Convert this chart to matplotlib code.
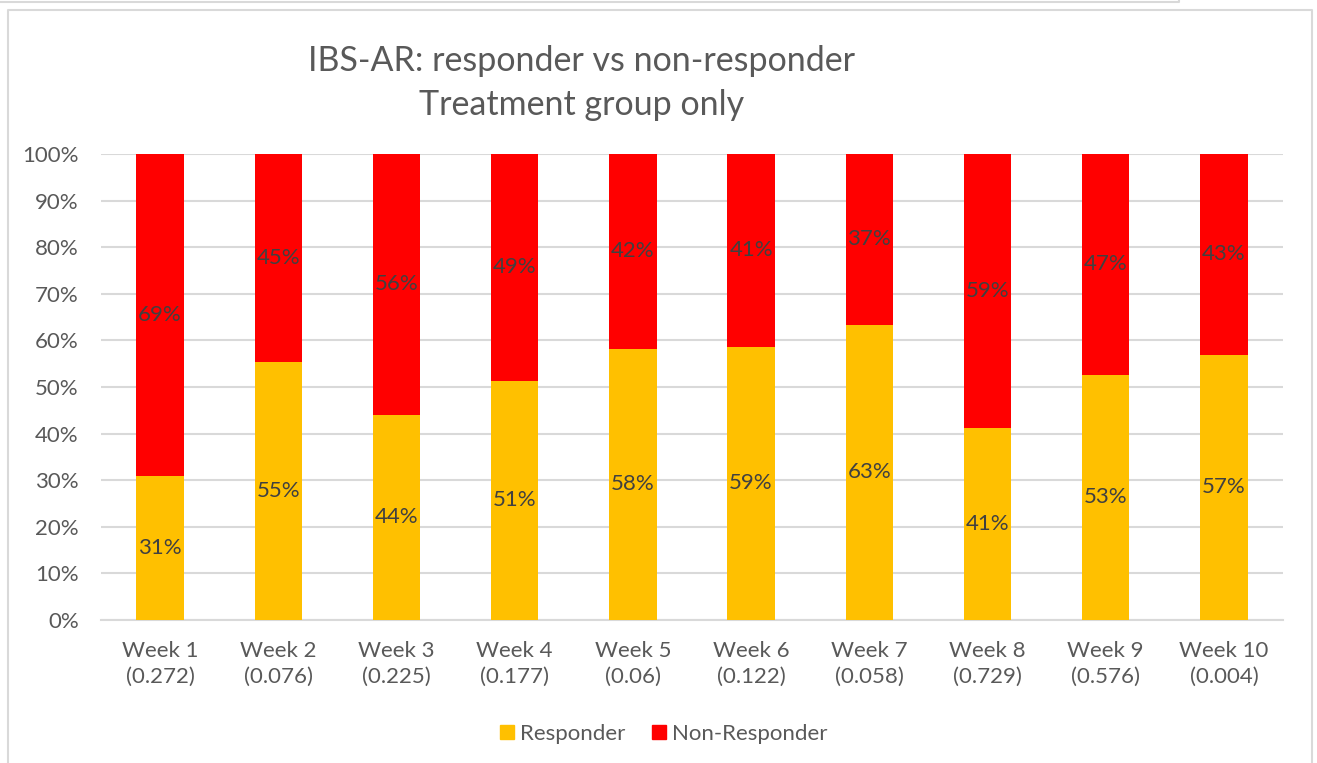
"""IBS-AR responder vs non-responder stacked bars (treatment group only)."""

import matplotlib

matplotlib.use("Agg")

import matplotlib.pyplot as plt
from matplotlib.lines import Line2D
from matplotlib.patches import Patch
import numpy as np

weeks = ["Week 1", "Week 2", "Week 3", "Week 4", "Week 5",
         "Week 6", "Week 7", "Week 8", "Week 9", "Week 10"]
p_values = ["0.272", "0.076", "0.225", "0.177", "0.06",
            "0.122", "0.058", "0.729", "0.576", "0.004"]
responder = [0.309, 0.554, 0.440, 0.513, 0.582, 0.586, 0.634, 0.413, 0.526, 0.569]
non_responder = [1.0 - r for r in responder]

YELLOW = "#FFC000"
RED = "#FF0000"
TEXT = "#595959"
LABEL = "#404040"
GRID = "#D9D9D9"

plt.rcParams["font.family"] = ["Lato", "DejaVu Sans"]

W, H = 1317, 763
fig = plt.figure(figsize=(W / 100, H / 100), dpi=100)
ax = fig.add_axes([101 / W, 1 - 620 / H, 1182 / W, 466 / H])

x = np.arange(len(weeks))
resp = np.array(responder)
nonr = np.array(non_responder)
ax.bar(x, resp, width=0.4, color=YELLOW, zorder=3)
ax.bar(x, nonr, width=0.4, bottom=resp, color=RED, zorder=3)

for xi, r, n in zip(x, resp, nonr):
    ax.text(xi, r / 2, f"{r * 100:.0f}%", ha="center", va="center",
            fontsize=16, color=LABEL, zorder=4)
    ax.text(xi, r + n / 2, f"{n * 100:.0f}%", ha="center", va="center",
            fontsize=16, color=LABEL, zorder=4)

ax.set_xlim(-0.5, len(weeks) - 0.5)
ax.set_ylim(0, 1)
ax.set_yticks(np.linspace(0, 1, 11))
ax.set_yticklabels([f"{v}%" for v in range(0, 101, 10)])
ax.set_xticks(x)
ax.set_xticklabels([f"{w}\n({p})" for w, p in zip(weeks, p_values)], linespacing=1.35)
ax.tick_params(axis="both", length=0, labelsize=16, colors=TEXT)
ax.tick_params(axis="y", pad=16)
ax.tick_params(axis="x", pad=15)
ax.grid(axis="y", color=GRID, linewidth=1.5, zorder=0)
for side in ["top", "right", "left"]:
    ax.spines[side].set_visible(False)
ax.spines["bottom"].set_color(GRID)
ax.spines["bottom"].set_linewidth(1.5)

fig.text(582 / W, 1 - 83 / H, "IBS-AR: responder vs non-responder\nTreatment group only",
         ha="center", va="center", fontsize=24.5, color=TEXT, linespacing=1.45)

handles = [Patch(color=YELLOW, label="Responder"), Patch(color=RED, label="Non-Responder")]
fig.legend(handles=handles, loc="center", bbox_to_anchor=(664 / W, 1 - 734 / H), ncol=2,
           frameon=False, fontsize=16, labelcolor=TEXT, handlelength=0.6, handleheight=0.6,
           handletextpad=0.3, columnspacing=1.2)

# chart border and the edge of the box above it
fig.add_artist(Line2D([8 / W, 8 / W, 1312 / W, 1312 / W], [0, 1 - 10 / H, 1 - 10 / H, 0],
                      color=GRID, linewidth=1.5))
fig.add_artist(Line2D([0, 1179 / W, 1179 / W], [1 - 2 / H, 1 - 2 / H, 1], color=GRID, linewidth=1.5))

fig.savefig("out.png", dpi=100)
plt.close(fig)
